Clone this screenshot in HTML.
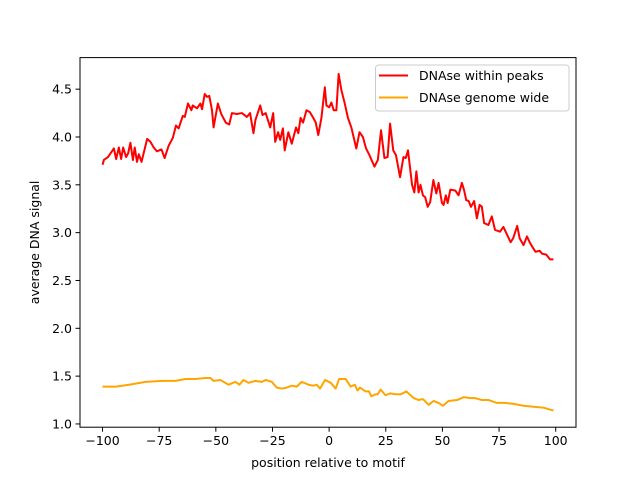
<!DOCTYPE html>
<html><head><meta charset="utf-8"><style>
body{margin:0;background:#fff}
svg{display:block;font-family:"DejaVu Sans","Liberation Sans",sans-serif}
</style></head><body>
<svg id="chart" width="640" height="480" viewBox="0 0 640 480">
<rect width="640" height="480" fill="#fff"/>
<g id="plot"></g>
<rect x="80" y="57.6" width="496" height="369.6" fill="none" stroke="#000" stroke-width="1"/>
<g id="xticks"></g><g id="yticks"></g>
<text x="328" y="467" font-size="12.5" text-anchor="middle">position relative to motif</text>
<text transform="translate(39,242.4) rotate(-90)" font-size="12.5" text-anchor="middle">average DNA signal</text>
<g>
<rect x="375.5" y="65" width="193.5" height="46" rx="3" fill="#fff" fill-opacity="0.8" stroke="#ccc" stroke-width="1"/>
<line x1="379" y1="75.5" x2="408" y2="75.5" stroke="#ff0000" stroke-width="2"/>
<text x="419" y="80" font-size="12.5">DNAse within peaks</text>
<line x1="379" y1="97.5" x2="408" y2="97.5" stroke="#ffa500" stroke-width="2"/>
<text x="419" y="102" font-size="12.5">DNAse genome wide</text>
</g>
</svg>
<script>
const peaksX=[-100,-99.4,-97.6,-95,-94,-92.8,-91.8,-90.9,-89.6,-88.7,-87.7,-86.6,-85.8,-84.8,-84,-82.8,-80.3,-78.9,-77.4,-76,-74,-72.6,-70.8,-69,-67.6,-66.4,-64.6,-63.7,-62.3,-60.8,-60.2,-58.3,-56.8,-56.1,-54.9,-53.9,-52.9,-51.7,-51,-49.1,-47.6,-45.6,-44.1,-42.9,-40.7,-38.5,-36.3,-34.9,-33.4,-32.5,-30.4,-29.4,-28,-26,-24.7,-23.8,-22.5,-21.6,-20.4,-19.6,-18,-16.5,-14.6,-13.6,-12.6,-11.5,-10,-8.5,-7,-5.9,-4.8,-3.4,-1.9,-1.2,0,1,2,3.2,4.2,5.4,6.8,8.3,9.8,12,13.4,14.9,16.3,17.8,20,21.5,22.9,24.4,25.8,26.9,28.3,29.5,31.3,32.8,33.8,34.8,36.6,37.6,38.5,39.5,40.3,41.4,42.4,43.5,44.6,46,47.3,48.3,49.8,50.5,51.5,52.3,53.5,55.7,57.1,58.6,59.6,60.5,61.6,62.6,64,65.2,66.4,67.4,68.4,70.3,71.8,73.2,75.4,76.9,78.3,80.1,81.2,83,84.1,85.8,87.3,88.5,89.7,91.1,92.9,94,95.8,97.5,99];
const peaksY=[3.71,3.76,3.79,3.88,3.77,3.89,3.77,3.89,3.79,3.83,3.94,3.76,3.89,3.74,3.82,3.74,3.98,3.95,3.89,3.85,3.87,3.78,3.91,3.99,4.12,4.09,4.22,4.21,4.35,4.28,4.33,4.30,4.35,4.29,4.45,4.42,4.43,4.28,4.10,4.35,4.24,4.15,4.13,4.25,4.24,4.25,4.21,4.25,4.04,4.18,4.33,4.23,4.25,4.10,4.25,3.95,4.05,3.97,4.09,3.86,4.05,3.93,4.10,4.04,4.20,4.15,4.28,4.26,4.20,4.15,4.02,4.20,4.52,4.33,4.31,4.36,4.28,4.28,4.66,4.49,4.36,4.20,4.10,3.88,4.05,4.00,3.88,3.81,3.69,3.76,4.07,3.78,3.79,4.14,3.86,3.81,3.58,3.79,3.78,3.86,3.50,3.42,3.64,3.42,3.50,3.39,3.37,3.27,3.32,3.55,3.41,3.52,3.31,3.29,3.39,3.31,3.45,3.44,3.39,3.52,3.44,3.34,3.33,3.27,3.33,3.15,3.29,3.27,3.10,3.08,3.17,3.03,3.01,3.06,2.99,2.90,2.94,3.07,2.94,2.87,2.96,2.90,2.85,2.80,2.81,2.78,2.77,2.72,2.72];
const genomeX=[-100,-94.1,-88.3,-81,-73.7,-67.8,-63.4,-59,-54.6,-52.4,-51,-48,-44.4,-41.4,-39.6,-37.8,-35.6,-32.7,-29.7,-28,-25.3,-23.1,-20.9,-18.7,-16.5,-14.3,-12.1,-9.1,-6.9,-5.5,-4,-1.8,0.7,2.9,4.4,7.3,9.5,11.3,12.5,13.6,16.1,17.6,18.6,20.5,21.5,22.7,24.9,27.1,29.3,31.5,34.1,37.3,39.5,41.4,43.9,46.1,48.3,50.2,52.7,56.4,59.4,62.3,64.5,67.4,70.4,74,77.7,81.4,85.8,90.2,94.6,99];
const genomeY=[1.39,1.39,1.41,1.44,1.45,1.45,1.47,1.47,1.48,1.48,1.45,1.46,1.41,1.44,1.41,1.46,1.43,1.45,1.44,1.46,1.44,1.38,1.37,1.38,1.40,1.39,1.44,1.41,1.40,1.41,1.37,1.46,1.43,1.37,1.47,1.47,1.39,1.41,1.35,1.38,1.34,1.34,1.29,1.31,1.31,1.36,1.30,1.32,1.31,1.31,1.34,1.27,1.25,1.26,1.20,1.24,1.22,1.19,1.24,1.25,1.28,1.27,1.27,1.25,1.25,1.22,1.22,1.21,1.19,1.18,1.17,1.14];
const xTicks=[-100,-75,-50,-25,0,25,50,75,100];
const yTicks=[1.0,1.5,2.0,2.5,3.0,3.5,4.0,4.5];
const xMin=-109.95,xMax=108.95,yMin=0.966,yMax=4.83;
const L=80,R=576,T=57.6,B=427.2;
const sx=v=>L+(v-xMin)/(xMax-xMin)*(R-L);
const sy=v=>B-(v-yMin)/(yMax-yMin)*(B-T);
const NS="http://www.w3.org/2000/svg";
const plot=document.getElementById('plot');
function line(xs,ys,color,name){
  const p=document.createElementNS(NS,'polyline');
  p.setAttribute('points',xs.map((x,i)=>sx(x).toFixed(2)+','+sy(ys[i]).toFixed(2)).join(' '));
  p.setAttribute('fill','none');p.setAttribute('stroke',color);p.setAttribute('stroke-width','2');
  p.setAttribute('stroke-linejoin','round');
  
  
  plot.appendChild(p);
}
line(peaksX,peaksY,'#ff0000','series-within-peaks');
line(genomeX,genomeY,'#ffa500','series-genome-wide');
const xg=document.getElementById('xticks');
xTicks.forEach(t=>{
  const x=sx(t);
  const l=document.createElementNS(NS,'line');
  l.setAttribute('x1',x);l.setAttribute('x2',x);l.setAttribute('y1',B);l.setAttribute('y2',B+4.5);
  l.setAttribute('stroke','#000');l.setAttribute('stroke-width','1');
  
  
  xg.appendChild(l);
  const tx=document.createElementNS(NS,'text');
  tx.setAttribute('x',x);tx.setAttribute('y',B+18);tx.setAttribute('font-size','12.5');tx.setAttribute('text-anchor','middle');
  tx.textContent=(t<0?'\u2212'+(-t):t);
  
  
  xg.appendChild(tx);
});
const yg=document.getElementById('yticks');
yTicks.forEach(t=>{
  const y=sy(t);
  const l=document.createElementNS(NS,'line');
  l.setAttribute('x1',L-4.5);l.setAttribute('x2',L);l.setAttribute('y1',y);l.setAttribute('y2',y);
  l.setAttribute('stroke','#000');l.setAttribute('stroke-width','1');
  
  
  yg.appendChild(l);
  const tx=document.createElementNS(NS,'text');
  tx.setAttribute('x',L-8);tx.setAttribute('y',y+4.5);tx.setAttribute('font-size','12.5');tx.setAttribute('text-anchor','end');
  tx.textContent=t.toFixed(1);
  
  
  yg.appendChild(tx);
});
</script>
</body></html>
